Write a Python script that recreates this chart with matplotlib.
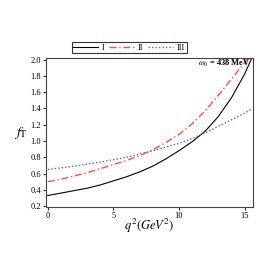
import numpy as np
import matplotlib
matplotlib.use("Agg")
import matplotlib.pyplot as plt

# valori
q2 = [0, 1, 2, 3, 4, 5, 6, 7, 8, 9, 10, 11, 12, 13, 14, 15, 15.5]
f_I = [0.33, 0.36, 0.39, 0.42, 0.46, 0.51, 0.56, 0.62, 0.69, 0.78, 0.88, 0.99, 1.12, 1.30, 1.53, 1.82, 2.00]
q2_II = [0, 1, 2, 3, 4, 5, 6, 7, 8, 9, 10, 11, 12, 13, 14, 15, 15.3]
f_II = [0.50, 0.53, 0.57, 0.61, 0.66, 0.71, 0.76, 0.82, 0.89, 0.98, 1.08, 1.21, 1.37, 1.56, 1.76, 1.96, 2.02]
q2_III = [0, 1, 2, 3, 4, 5, 6, 7, 8, 9, 10, 11, 12, 13, 14, 15, 15.5]
f_III = [0.65, 0.67, 0.69, 0.715, 0.74, 0.77, 0.80, 0.84, 0.88, 0.925, 0.97, 1.03, 1.10, 1.18, 1.26, 1.34, 1.39]
labels = ["I", "II", "III"]

plt.rcParams['font.family'] = ['Liberation Serif', 'DejaVu Serif']
plt.rcParams['mathtext.fontset'] = 'stix'

fig = plt.figure(figsize=(2.73, 2.73), dpi=100)
ax = fig.add_axes([0.168, 0.242, 0.759, 0.546])

ax.plot(q2, f_I, color='black', lw=0.8, ls='-', label=labels[0])
ax.plot(q2_II, f_II, color=(1, 0.3, 0.3), lw=1.0, ls=(0, (5, 2, 1, 2)), label=labels[1])
ax.plot(q2_III, f_III, color=(0.35, 0.35, 1), lw=1.0, ls=(0, (1, 1.5)), label=labels[2])

ax.set_xlim(-0.15, 15.65)
ax.set_ylim(0.19, 2.02)
ax.set_xticks([0, 5, 10, 15])
ax.set_yticks(np.arange(0.2, 2.01, 0.2))
ax.set_yticklabels(["%.1f" % v for v in np.arange(0.2, 2.01, 0.2)])
ax.tick_params(labelsize=6, length=2, width=0.6, direction='out', top=False, right=False, pad=1.5)
for s in ax.spines.values():
    s.set_linewidth(0.8)
    s.set_color('#444444')

ax.text(15.4, 1.95, r"$\omega_0$ = 438 MeV", fontsize=6, ha='right', va='center', weight='bold')

fig.text(0.077, 0.513, r"$f_{\rm T}$", fontsize=10, ha='center', va='center')
fig.text(0.545, 0.172, r"$q^2(GeV^2)$", fontsize=9, ha='center', va='center')

leg = fig.legend(loc='center', bbox_to_anchor=(0.473, 0.825), ncol=3, fontsize=6,
                 frameon=True, fancybox=False, edgecolor='black', handlelength=3.0,
                 handletextpad=0.4, columnspacing=0.6, borderpad=0.2, borderaxespad=0)
leg.get_frame().set_linewidth(0.8)

fig.savefig("out.png", dpi=100)
